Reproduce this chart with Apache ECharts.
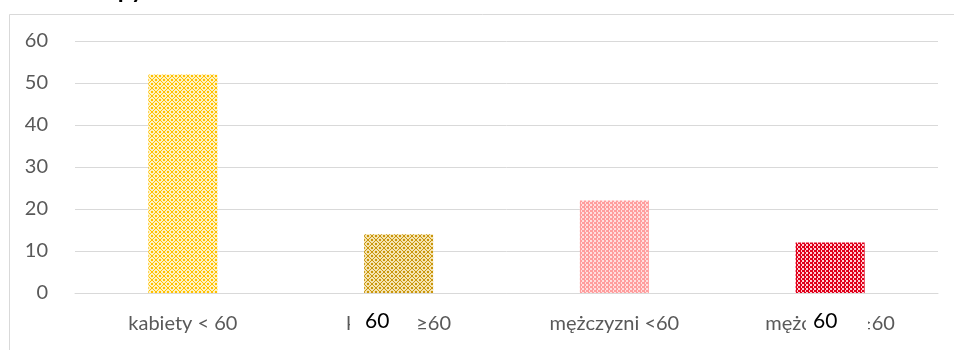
<!DOCTYPE html>
<html><head><meta charset="utf-8">
<script src="https://cdn.jsdelivr.net/npm/echarts@6/dist/echarts.min.js"></script>
<style>html,body{margin:0;padding:0;background:#fff}#c{width:954px;height:350px}</style>
</head><body><div id="c"></div>
<script>
const categories = ['kabiety < 60', 'kobiety ≥60', 'mężczyzni <60', 'mężczyzni ≥60'];
const values = [52, 14, 22, 12];
const yTicks = [0, 10, 20, 30, 40, 50, 60];
const titleText = 'Grupy';

function makePattern(fg, bg, type) {
  const c = document.createElement('canvas');
  const s = type === 'check' ? 4 : 8;
  c.width = s; c.height = s;
  const g = c.getContext('2d');
  g.fillStyle = bg; g.fillRect(0, 0, s, s);
  g.fillStyle = fg;
  if (type === 'check') {
    g.fillRect(0, 0, 2, 2); g.fillRect(2, 2, 2, 2);
    g.fillRect(0, 0, 1, 4);
  } else {
    for (let i = 0; i < 8; i++) {
      g.fillRect(i, i, 1, 1);
      g.fillRect(7 - i, i, 1, 1);
    }
    g.fillRect(0, 3, 1, 2); g.fillRect(7, 3, 1, 2);
    g.fillRect(3, 0, 2, 1); g.fillRect(3, 7, 2, 1);
  }
  return { image: c, repeat: 'repeat' };
}
const fills = [
  makePattern('#FFC000', '#FFF2C0', 'diamond'),
  makePattern('#C9960C', '#F5E3B0', 'diamond'),
  makePattern('#FF9E9E', '#FFE0E0', 'check'),
  makePattern('#E0001B', '#FFD0D6', 'check')
];

const FONT = 'Lato';
const chart = echarts.init(document.getElementById('c'), null, { renderer: 'canvas' });
chart.setOption({
  animation: false,
  backgroundColor: '#fff',
  grid: { left: 75, right: 16, top: 41, bottom: 57 },
  xAxis: {
    type: 'category', data: categories,
    axisLine: { show: true, lineStyle: { color: '#d9d9d9', width: 1 } },
    axisTick: { show: false },
    axisLabel: { color: '#595959', fontSize: 20, fontFamily: FONT, margin: 21 }
  },
  yAxis: {
    type: 'value', min: 0, max: 60, interval: 10,
    axisLine: { show: false }, axisTick: { show: false },
    splitLine: { lineStyle: { color: '#d9d9d9', width: 1 } },
    axisLabel: { color: '#595959', fontSize: 20, fontFamily: FONT, margin: 27,
      formatter: v => yTicks.includes(v) ? String(v) : '' }
  },
  series: [{
    type: 'bar', barWidth: '32%',
    data: values.map((v, i) => ({ value: v, itemStyle: { color: fills[i] } }))
  }],
  graphic: [
    { type: 'rect', left: 7, top: 12, shape: { width: 946, height: 400 },
      style: { fill: 'none', stroke: '#d9d9d9', lineWidth: 1 }, silent: true, z: 0 },
    { type: 'text', left: 78, top: -22, style: { text: titleText, fill: '#000', fontSize: 24, fontWeight: 'bold', fontFamily: FONT } },
    { type: 'rect', left: 350, top: 309, shape: { width: 66, height: 28 }, style: { fill: '#fff' }, z: 100 },
    { type: 'text', left: 365, top: 311, z: 101, style: { text: '60', fill: '#000', fontSize: 21, fontFamily: FONT } },
    { type: 'rect', left: 806, top: 309, shape: { width: 62, height: 28 }, style: { fill: '#fff' }, z: 100 },
    { type: 'text', left: 813, top: 311, z: 101, style: { text: '60', fill: '#000', fontSize: 21, fontFamily: FONT } }
  ]
});
</script></body></html>
